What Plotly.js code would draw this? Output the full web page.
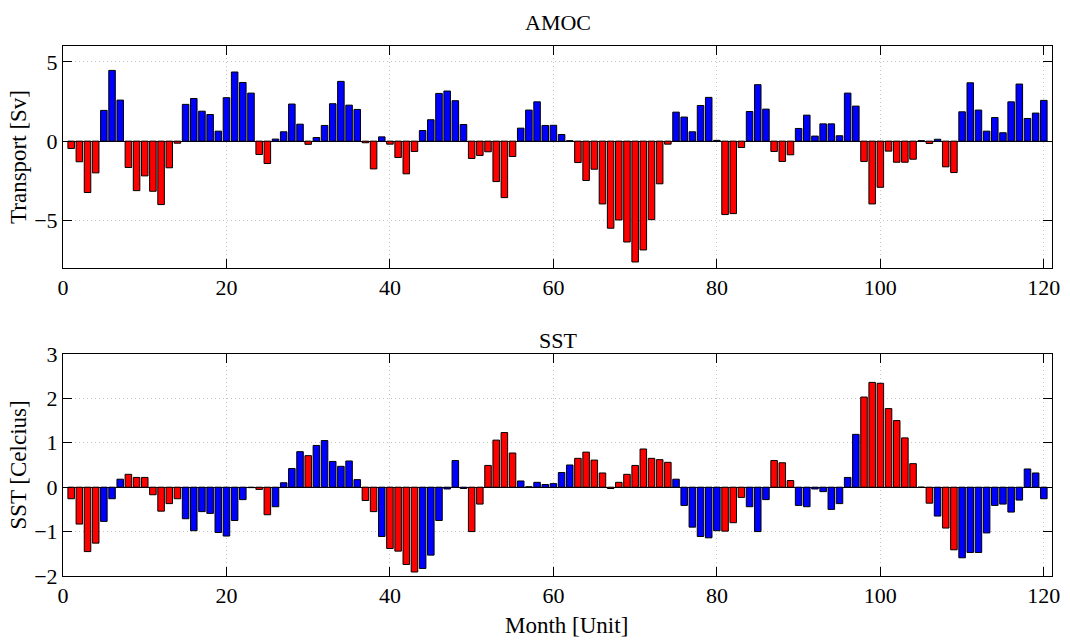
<!DOCTYPE html>
<html>
<head>
<meta charset="utf-8">
<script src="https://cdn.plot.ly/plotly-3.0.1.min.js"></script>
<style>html,body{margin:0;padding:0;background:#fff;}</style>
</head>
<body>
<div id="chart" style="width:1070px;height:644px;"></div>
<script>
// Month index (x categories)
var months = [];
for (var m = 1; m <= 120; m++) months.push(m);

// AMOC transport anomaly [Sv]
var amoc = [
 -0.46, -1.30, -3.24, -2.00, 1.94, 4.46, 2.59, -1.66, -3.12, -2.19,
 -3.16, -4.00, -1.68, -0.13, 2.32, 2.69, 1.89, 1.68, 0.63, 2.74,
 4.36, 3.70, 3.03, -0.84, -1.41, 0.13, 0.59, 2.34, 1.07, -0.20,
 0.23, 0.99, 2.36, 3.77, 2.27, 2.00, -0.10, -1.75, 0.27, -0.19,
 -1.03, -2.06, -0.65, 0.67, 1.35, 3.01, 3.16, 2.55, 1.05, -1.09,
 -0.90, -0.67, -2.55, -3.56, -0.97, 0.82, 1.96, 2.48, 0.99, 1.00,
 0.42, 0.03, -1.35, -2.48, -1.77, -3.96, -5.49, -4.97, -6.36, -7.62,
 -6.86, -4.95, -2.69, -0.19, 1.83, 1.52, 0.59, 2.25, 2.76, 0.05,
 -4.63, -4.57, -0.40, 1.87, 3.56, 2.02, -0.65, -1.28, -0.86, 0.80,
 1.64, 0.32, 1.09, 1.09, 0.34, 3.03, 2.21, -1.28, -3.96, -2.91,
 -0.63, -1.33, -1.33, -1.14, 0.03, -0.15, 0.12, -1.62, -1.98, 1.85,
 3.68, 1.96, 0.63, 1.49, 0.53, 2.48, 3.60, 1.43, 1.77, 2.57
];

// SST anomaly [Celcius]
var sst = [
 -0.26, -0.83, -1.45, -1.26, -0.77, -0.26, 0.18, 0.29, 0.22, 0.22,
 -0.17, -0.54, -0.37, -0.26, -0.71, -0.98, -0.55, -0.59, -1.02, -1.10,
 -0.75, -0.28, -0.01, -0.05, -0.62, -0.44, 0.10, 0.42, 0.80, 0.71,
 0.94, 1.05, 0.58, 0.47, 0.59, 0.17, -0.30, -0.55, -1.11, -1.38,
 -1.44, -1.74, -1.91, -1.83, -1.53, -0.75, -0.04, 0.60, -0.03, -1.00,
 -0.38, 0.49, 1.06, 1.23, 0.77, 0.14, 0.01, 0.11, 0.06, 0.08,
 0.33, 0.50, 0.65, 0.79, 0.61, 0.32, -0.03, 0.11, 0.29, 0.49,
 0.86, 0.65, 0.62, 0.56, 0.18, -0.41, -0.90, -1.11, -1.14, -0.98,
 -0.99, -0.80, -0.23, -0.44, -1.00, -0.28, 0.60, 0.55, 0.15, -0.41,
 -0.44, -0.04, -0.10, -0.50, -0.37, 0.22, 1.19, 2.03, 2.36, 2.34,
 1.77, 1.50, 1.11, 0.53, 0.00, -0.36, -0.65, -0.92, -1.41, -1.59,
 -1.47, -1.47, -1.03, -0.41, -0.38, -0.56, -0.29, 0.41, 0.32, -0.26
];

var xTicks = [0, 20, 40, 60, 80, 100, 120];
var amocTicks = [-5, 0, 5];
var sstTicks = [-2, -1, 0, 1, 2, 3];

// colour each month by the sign of the AMOC anomaly
var colors = amoc.map(function (v) { return v >= 0 ? '#0000ff' : '#ff0000'; });

var FONT = 'Liberation Serif, Times New Roman, serif';
var TICKSIZE = 22, LABELSIZE = 23, TITLESIZE = 22;

var traces = [
  { type: 'bar', x: months, y: amoc, xaxis: 'x', yaxis: 'y',
    marker: { color: colors, line: { color: '#000000', width: 1 } },
    hoverinfo: 'x+y', showlegend: false },
  { type: 'bar', x: months, y: sst, xaxis: 'x2', yaxis: 'y2',
    marker: { color: colors, line: { color: '#000000', width: 1 } },
    hoverinfo: 'x+y', showlegend: false }
];

var GRID = '#c4c4c4';
var DASH = '1px,3px';

function xax(anchor) {
  return {
    anchor: anchor, domain: [0, 1], range: [0, 121],
    tickmode: 'array', tickvals: xTicks, ticktext: xTicks.map(String),
    ticks: 'inside', ticklen: 9, tickwidth: 1, tickcolor: '#000',
    showline: true, linecolor: '#000', linewidth: 1, mirror: 'ticks',
    showgrid: true, gridcolor: GRID, griddash: DASH, gridwidth: 1,
    zeroline: false,
    tickfont: { family: FONT, size: TICKSIZE, color: '#000' }
  };
}
function yax(anchor, domain, range, ticks, title) {
  return {
    anchor: anchor, domain: domain, range: range,
    tickmode: 'array', tickvals: ticks, ticktext: ticks.map(function (t) { return t < 0 ? '\u2212' + Math.abs(t) : String(t); }),
    ticks: 'inside', ticklen: 9, tickwidth: 1, tickcolor: '#000',
    showline: true, linecolor: '#000', linewidth: 1, mirror: 'ticks',
    showgrid: true, gridcolor: GRID, griddash: DASH, gridwidth: 1,
    zeroline: true, zerolinecolor: '#000', zerolinewidth: 1,
    tickfont: { family: FONT, size: TICKSIZE, color: '#000' },
    title: { text: title, font: { family: FONT, size: LABELSIZE, color: '#000' }, standoff: 1 }
  };
}

var layout = {
  width: 1070, height: 644,
  margin: { l: 63, r: 18, t: 46, b: 68, autoexpand: false },
  paper_bgcolor: '#ffffff', plot_bgcolor: '#ffffff',
  bargap: 0.2,
  font: { family: FONT, size: TICKSIZE, color: '#000' },
  xaxis: xax('y'),
  yaxis: yax('x', [0.5811, 1], [-8, 6], amocTicks, 'Transport [Sv]'),
  xaxis2: xax('y2'),
  yaxis2: yax('x2', [0, 0.4189], [-2, 3], sstTicks, 'SST [Celcius]'),
  annotations: [
    { text: 'AMOC', xref: 'paper', yref: 'paper', x: 0.5, y: 1.045, xanchor: 'center', yanchor: 'middle',
      showarrow: false, font: { family: FONT, size: TITLESIZE, color: '#000' } },
    { text: 'SST', xref: 'paper', yref: 'paper', x: 0.5, y: 0.4434, xanchor: 'center', yanchor: 'middle',
      showarrow: false, font: { family: FONT, size: TITLESIZE, color: '#000' } },
    { text: 'Month [Unit]', xref: 'paper', yref: 'paper', x: 0.5086, y: -0.0943, xanchor: 'center', yanchor: 'middle',
      showarrow: false, font: { family: FONT, size: LABELSIZE, color: '#000' } }
  ]
};

Plotly.newPlot('chart', traces, layout, { displayModeBar: false, staticPlot: true });
</script>
</body>
</html>
